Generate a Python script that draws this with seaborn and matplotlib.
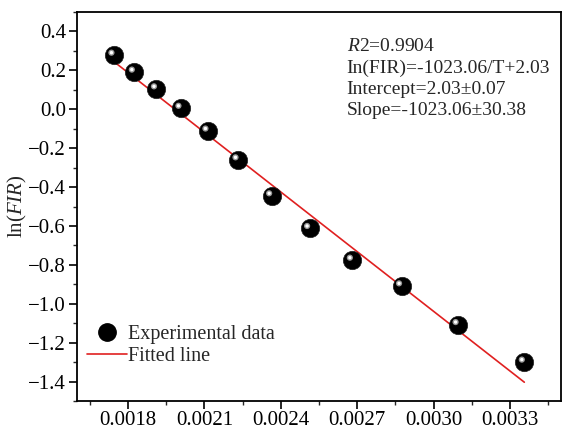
import numpy as np
import pandas as pd
import matplotlib
matplotlib.use("Agg")
import matplotlib.pyplot as plt
import matplotlib.transforms as mtransforms
from matplotlib.ticker import MultipleLocator, FuncFormatter
from matplotlib.lines import Line2D
import seaborn as sns

# ---- data ----
inv_T = [0.001745, 0.001825, 0.001912, 0.002008, 0.002114, 0.002232,
         0.002364, 0.002513, 0.002681, 0.002874, 0.003096, 0.003356]
ln_fir = [0.278, 0.191, 0.105, 0.005, -0.112, -0.260,
          -0.445, -0.613, -0.776, -0.908, -1.107, -1.300]
fit_slope = -1023.06
fit_intercept = 2.03
fit_x = [0.001745, 0.003356]
x_ticks = [0.0018, 0.0021, 0.0024, 0.0027, 0.0030, 0.0033]
y_ticks = [0.4, 0.2, 0.0, -0.2, -0.4, -0.6, -0.8, -1.0, -1.2, -1.4]
annot_lines = [r"$\mathit{R2}$=0.9904", "In(FIR)=-1023.06/T+2.03",
               "Intercept=2.03±0.07", "Slope=-1023.06±30.38"]

df = pd.DataFrame({"x": inv_T, "y": ln_fir})
fit_df = pd.DataFrame({"x": fit_x, "y": [fit_slope * v + fit_intercept for v in fit_x]})

sns.set_theme(style="ticks")
plt.rcParams["font.family"] = ["Liberation Serif", "DejaVu Serif"]
plt.rcParams["mathtext.fontset"] = "custom"
plt.rcParams["mathtext.rm"] = "Liberation Serif"
plt.rcParams["mathtext.it"] = "Liberation Serif:italic"

fig = plt.figure(figsize=(5.62, 4.26), dpi=100)
ax = fig.add_axes([77 / 562, 25 / 426, 484 / 562, 389 / 426])

red = "#e02020"
sns.lineplot(data=fit_df, x="x", y="y", ax=ax, color=red, linewidth=1.2, zorder=2)
sns.scatterplot(data=df, x="x", y="y", ax=ax, color="black", s=175,
                edgecolor="#222222", linewidth=0.5, zorder=3)
# highlight for sphere look
hl = mtransforms.offset_copy(ax.transData, fig=fig, x=-2.5, y=2.5, units="dots")
ax.scatter(df["x"], df["y"], s=20, color="#999999", edgecolor="none", zorder=4, transform=hl)
ax.scatter(df["x"], df["y"], s=6, color="white", edgecolor="none", zorder=5, transform=hl)

ax.set_xlim(0.0016, 0.0035)
ax.set_ylim(-1.5, 0.5)
ax.set_xticks(x_ticks)
ax.set_yticks(y_ticks)
ax.xaxis.set_major_formatter(FuncFormatter(lambda v, p: f"{v:.4f}"))
ax.yaxis.set_major_formatter(FuncFormatter(lambda v, p: f"{v:.1f}".replace("-", "\u2212")))
ax.xaxis.set_minor_locator(MultipleLocator(0.00015))
ax.yaxis.set_minor_locator(MultipleLocator(0.1))
ax.tick_params(which="major", direction="out", length=6, width=1.2, labelsize=15,
               colors="black", top=False, right=False, pad=2)
ax.tick_params(axis="x", which="major", pad=1)
ax.tick_params(which="minor", direction="out", length=3, width=1.0, top=False, right=False)
for s in ax.spines.values():
    s.set_linewidth(1.3)
    s.set_color("black")
ax.set_xlabel("")
ax.set_ylabel(r"ln($\mathit{FIR}$)", fontsize=15)
ax.yaxis.set_label_coords(-0.1, 0.5)

ax.text(0.557, 0.932, "\n".join(annot_lines), transform=ax.transAxes, fontsize=14,
        va="top", ha="left", linespacing=1.3)

handles = [Line2D([], [], marker="o", linestyle="none", color="black", markersize=12.5),
           Line2D([], [], color=red, linewidth=1.2)]
ax.legend(handles, ["Experimental data", "Fitted line"], loc="lower left",
          bbox_to_anchor=(-0.004, 0.06), frameon=False, fontsize=14.5,
          handlelength=2.0, handletextpad=0.05, labelspacing=0.1, borderaxespad=0.2)

fig.savefig("out.png", dpi=100)
